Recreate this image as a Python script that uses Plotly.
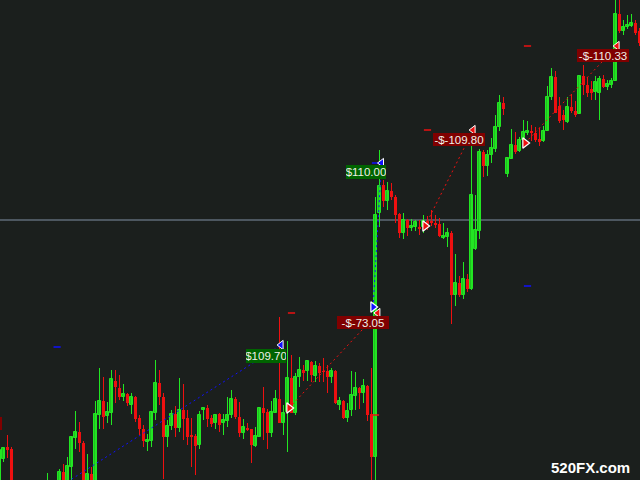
import plotly.graph_objects as go

# ---------------- data ----------------
bar_index = list(range(-1, 160))

open_ = [
    1.0995, 1.1021, 1.1033, 1.1031, 1.0992, 1.0975, 1.0985, 1.0968, 1.0980, 1.0988,
    1.0977, 1.0986, 1.0982, 1.0992, 1.0985, 1.0994, 1.1008, 1.0992, 1.1013, 1.1042,
    1.1048, 1.1037, 1.0998, 1.1006, 1.0995, 1.1065, 1.1079, 1.1064, 1.1067, 1.1099,
    1.1092, 1.1083, 1.1086, 1.1075, 1.1083, 1.1062, 1.1051, 1.1038, 1.1039, 1.1067,
    1.1097, 1.1083, 1.1043, 1.1054, 1.1066, 1.1052, 1.1070, 1.1062, 1.1045, 1.1044,
    1.1035, 1.1070, 1.1072, 1.1062, 1.1057, 1.1066, 1.1057, 1.1059, 1.1065, 1.1081,
    1.1063, 1.1047, 1.1052, 1.1051, 1.1034, 1.1043, 1.1072, 1.1068, 1.1047, 1.1067,
    1.1081, 1.1057, 1.1068, 1.1102, 1.1067, 1.1103, 1.1110, 1.1109, 1.1118, 1.1104,
    1.1114, 1.1109, 1.1109, 1.1103, 1.1109, 1.1075, 1.1079, 1.1062, 1.1070, 1.1084,
    1.1092, 1.1087, 1.1094, 1.1066, 1.1023, 1.1267, 1.1295, 1.1279, 1.1289, 1.1283,
    1.1266, 1.1247, 1.1260, 1.1252, 1.1253, 1.1253, 1.1253, 1.1259, 1.1259, 1.1257,
    1.1256, 1.1242, 1.1243, 1.1247, 1.1185, 1.1197, 1.1185, 1.1201, 1.1191, 1.1231,
    1.1249, 1.1328, 1.1314, 1.1325, 1.1331, 1.1353, 1.1377, 1.1306, 1.1321, 1.1335,
    1.1329, 1.1340, 1.1347, 1.1349, 1.1347, 1.1341, 1.1339, 1.1349, 1.1383, 1.1403,
    1.1374, 1.1365, 1.1358, 1.1373, 1.1369, 1.1366, 1.1404, 1.1395, 1.1391, 1.1388,
    1.1387, 1.1401, 1.1393, 1.1395, 1.1399, 1.1466, 1.1449, 1.1453, 1.1454, 1.1457,
    1.1449,
]
high = [
    1.1030, 1.1033, 1.1045, 1.1033, 1.0996, 1.0990, 1.0989, 1.0984, 1.0992, 1.0993,
    1.0994, 1.0991, 1.1007, 1.0996, 1.0998, 1.1011, 1.1016, 1.1023, 1.1043, 1.1069,
    1.1058, 1.1039, 1.1026, 1.1013, 1.1079, 1.1112, 1.1103, 1.1078, 1.1110, 1.1110,
    1.1105, 1.1096, 1.1087, 1.1087, 1.1084, 1.1065, 1.1055, 1.1046, 1.1069, 1.1120,
    1.1110, 1.1087, 1.1060, 1.1070, 1.1074, 1.1102, 1.1096, 1.1070, 1.1062, 1.1046,
    1.1069, 1.1072, 1.1075, 1.1065, 1.1066, 1.1067, 1.1066, 1.1083, 1.1090, 1.1083,
    1.1078, 1.1061, 1.1057, 1.1051, 1.1053, 1.1073, 1.1093, 1.1071, 1.1079, 1.1090,
    1.1163, 1.1075, 1.1139, 1.1125, 1.1107, 1.1123, 1.1115, 1.1119, 1.1119, 1.1119,
    1.1117, 1.1122, 1.1115, 1.1112, 1.1110, 1.1083, 1.1080, 1.1077, 1.1109, 1.1108,
    1.1093, 1.1101, 1.1095, 1.1112, 1.1283, 1.1330, 1.1300, 1.1298, 1.1297, 1.1285,
    1.1267, 1.1267, 1.1261, 1.1261, 1.1260, 1.1260, 1.1265, 1.1264, 1.1270, 1.1265,
    1.1262, 1.1257, 1.1252, 1.1249, 1.1226, 1.1204, 1.1218, 1.1206, 1.1334, 1.1285,
    1.1331, 1.1330, 1.1330, 1.1342, 1.1365, 1.1385, 1.1383, 1.1323, 1.1351, 1.1348,
    1.1343, 1.1360, 1.1359, 1.1355, 1.1353, 1.1352, 1.1354, 1.1394, 1.1412, 1.1409,
    1.1383, 1.1370, 1.1383, 1.1386, 1.1379, 1.1405, 1.1415, 1.1403, 1.1399, 1.1404,
    1.1404, 1.1405, 1.1400, 1.1402, 1.1485, 1.1485, 1.1460, 1.1465, 1.1466, 1.1460,
    1.1452,
]
low = [
    1.0990, 1.1018, 1.1022, 1.0985, 1.0975, 1.0970, 1.0965, 1.0962, 1.0975, 1.0972,
    1.0973, 1.0974, 1.0980, 1.0980, 1.0982, 1.0990, 1.0988, 1.0988, 1.0990, 1.1031,
    1.1028, 1.0985, 1.0994, 1.0990, 1.0992, 1.1051, 1.1051, 1.1057, 1.1055, 1.1077,
    1.1080, 1.1079, 1.1074, 1.1066, 1.1058, 1.1045, 1.1033, 1.1029, 1.1033, 1.1060,
    1.1075, 1.1001, 1.1033, 1.1050, 1.1043, 1.1048, 1.1040, 1.1035, 1.1013, 1.1005,
    1.1031, 1.1060, 1.1053, 1.1053, 1.1051, 1.1048, 1.1045, 1.1053, 1.1062, 1.1061,
    1.1043, 1.1041, 1.1049, 1.1017, 1.1033, 1.1043, 1.1040, 1.1031, 1.1043, 1.1067,
    1.1057, 1.1045, 1.1028, 1.1067, 1.1065, 1.1093, 1.1099, 1.1099, 1.1098, 1.1098,
    1.1098, 1.1098, 1.1087, 1.1097, 1.1076, 1.1070, 1.1061, 1.1058, 1.1064, 1.1070,
    1.1071, 1.1077, 1.1059, 1.1000, 1.1000, 1.1253, 1.1273, 1.1270, 1.1280, 1.1257,
    1.1242, 1.1241, 1.1244, 1.1249, 1.1249, 1.1245, 1.1247, 1.1250, 1.1254, 1.1252,
    1.1243, 1.1241, 1.1233, 1.1156, 1.1174, 1.1183, 1.1181, 1.1188, 1.1190, 1.1230,
    1.1241, 1.1303, 1.1304, 1.1317, 1.1328, 1.1349, 1.1365, 1.1303, 1.1321, 1.1326,
    1.1328, 1.1335, 1.1345, 1.1339, 1.1338, 1.1334, 1.1338, 1.1349, 1.1380, 1.1367,
    1.1357, 1.1350, 1.1357, 1.1367, 1.1363, 1.1366, 1.1385, 1.1383, 1.1380, 1.1380,
    1.1360, 1.1392, 1.1390, 1.1392, 1.1399, 1.1447, 1.1445, 1.1451, 1.1453, 1.1445,
    1.1434,
]
close = [
    1.1030, 1.1032, 1.1030, 1.0990, 1.0980, 1.0985, 1.0970, 1.0980, 1.0988, 1.0978,
    1.0986, 1.0980, 1.0992, 1.0985, 1.0995, 1.1008, 1.0992, 1.1014, 1.1043, 1.1048,
    1.1037, 1.0990, 1.1006, 1.0995, 1.1066, 1.1079, 1.1063, 1.1068, 1.1101, 1.1093,
    1.1083, 1.1086, 1.1077, 1.1083, 1.1061, 1.1051, 1.1039, 1.1040, 1.1068, 1.1097,
    1.1083, 1.1043, 1.1054, 1.1066, 1.1052, 1.1070, 1.1061, 1.1043, 1.1043, 1.1034,
    1.1065, 1.1072, 1.1061, 1.1056, 1.1065, 1.1055, 1.1060, 1.1065, 1.1081, 1.1063,
    1.1047, 1.1053, 1.1050, 1.1035, 1.1044, 1.1072, 1.1067, 1.1047, 1.1068, 1.1081,
    1.1057, 1.1067, 1.1102, 1.1067, 1.1103, 1.1110, 1.1107, 1.1119, 1.1105, 1.1114,
    1.1107, 1.1108, 1.1103, 1.1109, 1.1077, 1.1079, 1.1062, 1.1069, 1.1085, 1.1092,
    1.1087, 1.1094, 1.1065, 1.1023, 1.1265, 1.1294, 1.1279, 1.1289, 1.1283, 1.1265,
    1.1247, 1.1260, 1.1252, 1.1254, 1.1258, 1.1251, 1.1259, 1.1256, 1.1257, 1.1255,
    1.1244, 1.1244, 1.1247, 1.1185, 1.1197, 1.1185, 1.1201, 1.1191, 1.1285, 1.1250,
    1.1328, 1.1314, 1.1325, 1.1332, 1.1353, 1.1377, 1.1371, 1.1322, 1.1335, 1.1328,
    1.1340, 1.1348, 1.1349, 1.1347, 1.1340, 1.1338, 1.1349, 1.1383, 1.1403, 1.1367,
    1.1359, 1.1360, 1.1373, 1.1369, 1.1365, 1.1404, 1.1395, 1.1387, 1.1387, 1.1398,
    1.1401, 1.1393, 1.1396, 1.1399, 1.1466, 1.1449, 1.1453, 1.1455, 1.1457, 1.1447,
    1.1437,
]

price_line = 1.1260

# trades: open/close bar and price, side, profit label, stop/target levels
trade_open_bar = [12.8, 71.4, 92.4, 105.4, 130.4]
trade_open_price = [1.0990, 1.1072, 1.1173, 1.1254, 1.1337]
trade_close_bar = [69.4, 93.6, 94.5, 117.4, 153.4]
trade_close_price = [1.1135, 1.1167, 1.1317, 1.1350, 1.1434]
trade_side = ["buy", "sell", "buy", "sell", "sell"]
trade_profit = ["$109.70", "-$-73.05", "$110.00", "-$-109.80", "-$-110.33"]
trade_sl = [None, 1.1167, 1.1065, 1.1350, 1.1434]
trade_tp = [1.1133, None, 1.1317, None, 1.1194]

watermark = "520FX.com"

# ---------------- styles ----------------
BG = "#1b1f1d"
UP = "#22e622"
UP_FILL = "#1fc01f"
DN = "#ee1010"
BUY = "#1010ff"
SELL = "#ee1010"

fig = go.Figure()

# wicks
for color, cond in ((UP, lambda o, c: c >= o), (DN, lambda o, c: c < o)):
    wx, wy = [], []
    for k, o, h, l, c in zip(bar_index, open_, high, low, close):
        if cond(o, c):
            wx += [k, k, None]
            wy += [l, h, None]
    fig.add_trace(go.Scatter(x=wx, y=wy, mode="lines",
                             line=dict(color=color, width=1), hoverinfo="skip"))

# bodies
up_idx = [i for i in range(len(bar_index)) if close[i] >= open_[i]]
dn_idx = [i for i in range(len(bar_index)) if close[i] < open_[i]]
fig.add_trace(go.Bar(
    x=[bar_index[i] for i in up_idx],
    y=[close[i] - open_[i] for i in up_idx],
    base=[open_[i] for i in up_idx],
    width=0.75,
    marker=dict(color=UP_FILL, line=dict(color=UP, width=1)),
    hoverinfo="skip",
))
fig.add_trace(go.Bar(
    x=[bar_index[i] for i in dn_idx],
    y=[open_[i] - close[i] for i in dn_idx],
    base=[close[i] for i in dn_idx],
    width=0.75,
    marker=dict(color=DN, line=dict(width=0)),
    hoverinfo="skip",
))

# trade lines, arrows, levels
for i in range(len(trade_side)):
    col = BUY if trade_side[i] == "buy" else SELL
    fig.add_trace(go.Scatter(
        x=[trade_open_bar[i], trade_close_bar[i]],
        y=[trade_open_price[i], trade_close_price[i]],
        mode="lines", line=dict(color=col, width=1, dash="2px,3px"), hoverinfo="skip"))
    for lvl, lc in ((trade_sl[i], SELL), (trade_tp[i], BUY)):
        if lvl is not None:
            fig.add_trace(go.Scatter(
                x=[trade_open_bar[i] - 0.3, trade_open_bar[i] + 1.5], y=[lvl, lvl],
                mode="lines", line=dict(color=lc, width=1.5), hoverinfo="skip"))
    fig.add_trace(go.Scatter(
        x=[trade_open_bar[i]], y=[trade_open_price[i]], mode="markers",
        marker=dict(symbol="triangle-right", size=9, color=col,
                    line=dict(color="white", width=1.2)), hoverinfo="skip"))
    fig.add_trace(go.Scatter(
        x=[trade_close_bar[i]], y=[trade_close_price[i]], mode="markers",
        marker=dict(symbol="triangle-left", size=8, color=col,
                    line=dict(color="white", width=1)), hoverinfo="skip"))

label_xshift = [5, 11, 4.5, 12, 12]
label_yshift = [-4, -3, -2, -3, -3]
for i in range(len(trade_profit)):
    is_buy = trade_side[i] == "buy"
    fig.add_annotation(
        x=trade_close_bar[i], y=trade_close_price[i], xref="x", yref="y",
        text=trade_profit[i], showarrow=False, xanchor="right", yanchor="top",
        xshift=label_xshift[i], yshift=label_yshift[i],
        bgcolor="#006400" if is_buy else "#800000",
        width=40 if is_buy else 52, height=14 if is_buy else 13,
        borderpad=0, borderwidth=0, align="center",
        font=dict(family="Liberation Sans, Arial, sans-serif", size=11.5, color="#f0f0e8"),
    )

# partially visible label at the left edge
fig.add_annotation(x=-0.4, y=1.1063, xref="x", yref="y", text=" ", showarrow=False,
                   xanchor="right", yanchor="top", bgcolor="#800000",
                   width=52, height=13, borderpad=0, borderwidth=0)

fig.add_shape(type="line", xref="paper", x0=0, x1=1, yref="y", y0=price_line, y1=price_line,
              line=dict(color="#8090a4", width=1), layer="below")

fig.add_annotation(x=0.9875, y=0.026, xref="paper", yref="paper", text="<b>%s</b>" % watermark,
                   showarrow=False, xanchor="right", yanchor="middle",
                   font=dict(family="Liberation Sans, Arial, sans-serif", size=15, color="#ffffff"))

fig.update_layout(
    width=640, height=480,
    margin=dict(l=0, r=0, t=0, b=0),
    paper_bgcolor=BG, plot_bgcolor=BG,
    showlegend=False, bargap=0, barmode="overlay",
    xaxis=dict(range=[-0.875, 159.125], visible=False, showgrid=False, zeroline=False),
    yaxis=dict(range=[1.1000, 1.1480], visible=False, showgrid=False, zeroline=False),
)

fig.write_html("out.html", config={"displayModeBar": False},
               post_script="document.body.style.margin='0';document.body.style.background='%s';" % BG)
